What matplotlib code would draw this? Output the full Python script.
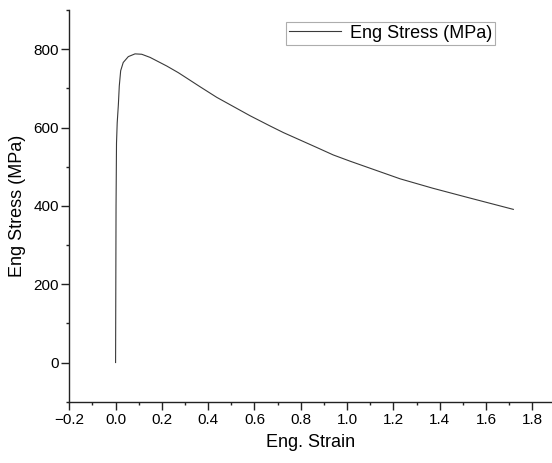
import numpy as np
import matplotlib.pyplot as plt
from matplotlib.ticker import MultipleLocator

plt.rcParams['font.family'] = ['Liberation Sans', 'DejaVu Sans']

# Courbe contrainte-deformation
strain = [0.0, 0.001, 0.002, 0.004, 0.007, 0.012, 0.016, 0.022, 0.033, 0.055,
          0.084, 0.113, 0.149, 0.221, 0.271, 0.292, 0.365, 0.437, 0.581, 0.667,
          0.725, 0.869, 0.94, 1.013, 1.229, 1.37, 1.517, 1.718]
stress = [0, 200, 400, 560, 612, 658, 706, 745, 766, 781,
          788, 787, 779, 757, 740, 732, 704, 677, 630, 604,
          587, 549, 530, 514, 469, 445, 422, 391]

fig = plt.figure(figsize=(5.52, 4.63), dpi=100)
ax = fig.add_axes([0.1255, 0.1324, 0.8745, 0.846])

ax.plot(strain, stress, color='#3a3a3a', lw=0.8, label='Eng Stress (MPa)')

ax.set_xlim(-0.2, 1.885)
ax.set_ylim(-100, 900)
ax.set_xticks([-0.2, 0.0, 0.2, 0.4, 0.6, 0.8, 1.0, 1.2, 1.4, 1.6, 1.8])
ax.xaxis.set_minor_locator(MultipleLocator(0.1))
ax.yaxis.set_major_locator(MultipleLocator(200))
ax.yaxis.set_minor_locator(MultipleLocator(100))
ax.xaxis.set_major_formatter(plt.FuncFormatter(
    lambda v, p: ('%.1f' % v).replace('-', '\u2212') if abs(v) > 1e-9 else '0.0'))

for s in ['top', 'right']:
    ax.spines[s].set_visible(False)
for s in ['left', 'bottom']:
    ax.spines[s].set_linewidth(1.0)
    ax.spines[s].set_color('#222222')

ax.tick_params(which='major', direction='out', length=5.5, width=1.0, color='#222222',
               labelsize=11, labelcolor='black')
ax.tick_params(which='minor', direction='out', length=2.5, width=1.0, color='#222222')
ax.tick_params(axis='y', pad=2)
ax.tick_params(axis='x', pad=2.5)

ax.set_xlabel('Eng. Strain', fontsize=13, labelpad=5)
ax.set_ylabel('Eng Stress (MPa)', fontsize=13, labelpad=5)

leg = ax.legend(loc='upper left', bbox_to_anchor=(0.4496, 0.9691), fontsize=13,
                frameon=True, fancybox=False, borderpad=0.15, handlelength=2.9,
                handletextpad=0.5, borderaxespad=0)
leg.get_frame().set_edgecolor('#999999')
leg.get_frame().set_linewidth(0.8)

plt.savefig('out.png', dpi=100)
